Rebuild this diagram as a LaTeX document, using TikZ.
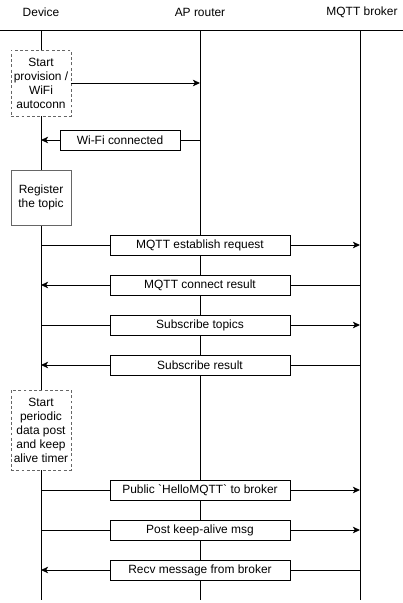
\documentclass[tikz,border=0pt]{standalone}
\usepackage{fontspec}
\setmainfont{Liberation Sans}
\usetikzlibrary{arrows.meta}
\definecolor{boxgray}{HTML}{666666}

\tikzset{
  lifeline/.style={line width=0.8pt},
  act/.style={draw=boxgray,fill=white,line width=0.8pt,align=center,
    minimum width=1.8cm,inner sep=0pt},
  actdash/.style={act,dash pattern=on 2.5pt off 2pt},
  msg/.style={draw,fill=white,line width=0.8pt,minimum height=0.6cm,inner sep=1pt},
  call/.style={line width=0.8pt,-{Stealth[length=6pt,width=5.5pt,inset=1.5pt]}},
}

\begin{document}
\begin{tikzpicture}[x=0.03cm,y=-0.03cm,font=\fontsize{10.2}{11.9}\selectfont]
    \useasboundingbox (0,0) rectangle (403,603);

    % participants
    \node (dev) at (41,12) {Device};
    \node (ap) at (200,12) {AP router};
    \node (brk) at (362,12) {MQTT broker};
    \coordinate (headl) at (0,30);
    \coordinate (headr) at (403,30);
    \draw[lifeline] (headl) -- (headr);

    % lifelines
    \coordinate (devl) at (41,30);
    \coordinate (apl) at (200,30);
    \coordinate (brkl) at (360,30);
    \coordinate (devend) at (41,600);
    \coordinate (apend) at (200,600);
    \coordinate (brkend) at (360,600);
    \draw[lifeline] (devl) -- (devend);
    \draw[lifeline] (apl) -- (apend);
    \draw[lifeline] (brkl) -- (brkend);

    % device activities
    \node[actdash,minimum height=1.98cm] (prov) at (41,83) {Start\\provision /\\WiFi\\autoconn};
    \node[act,minimum height=1.65cm] (reg) at (41,197.5) {Register\\the topic};
    \node[actdash,minimum height=2.4cm] (timer) at (41,430) {Start\\periodic\\data post\\and keep\\alive timer};

    \draw[call] (prov.east) -- (prov.east -| apl);

    \node[msg,minimum width=3.6cm] (wifi) at (120,140) {Wi-Fi connected};
    \draw[lifeline] (wifi.east -| apl) -- (wifi.east);
    \draw[call] (wifi.west) -- (wifi.west -| devl);

    % device -> broker
    \foreach \y/\txt in {245/MQTT establish request,325/Subscribe topics,
        490/Public \textasciigrave HelloMQTT\textasciigrave{} to broker,530/Post keep-alive msg}{
      \node[msg,minimum width=5.4cm] (m\y) at (200,\y) {\txt};
      \draw[lifeline] (m\y.west -| devl) -- (m\y.west);
      \draw[call] (m\y.east) -- (m\y.east -| brkl);
    }

    % broker -> device
    \foreach \y/\txt in {285/MQTT connect result,365/Subscribe result,570/Recv message from broker}{
      \node[msg,minimum width=5.4cm] (m\y) at (200,\y) {\txt};
      \draw[lifeline] (m\y.east -| brkl) -- (m\y.east);
      \draw[call] (m\y.west) -- (m\y.west -| devl);
    }
\end{tikzpicture}
\end{document}
